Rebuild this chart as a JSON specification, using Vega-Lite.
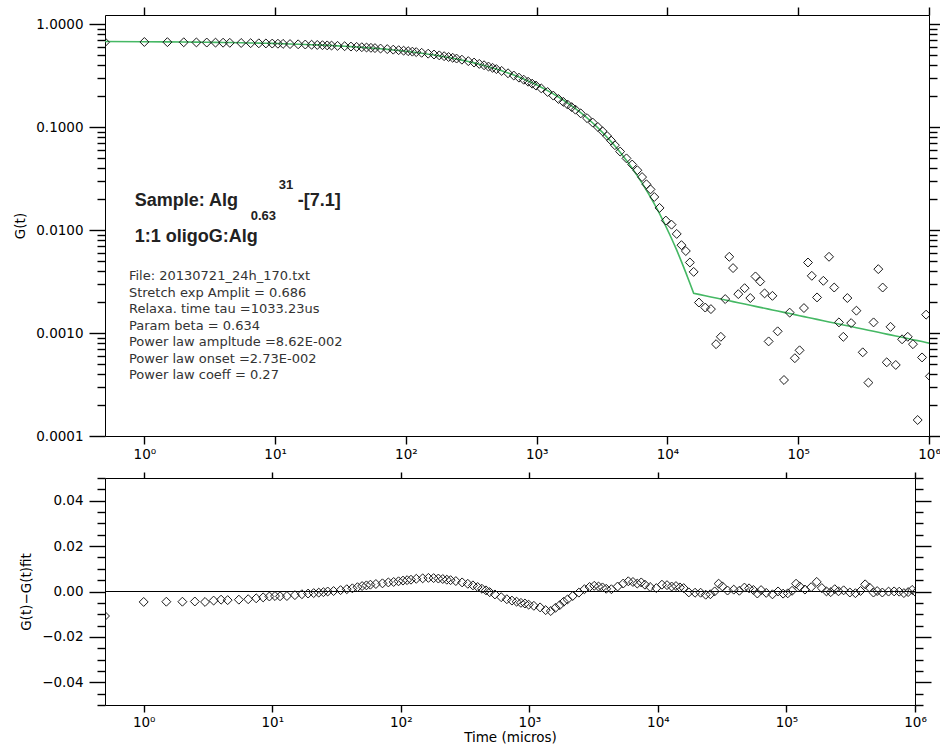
{
  "$schema": "https://vega.github.io/schema/vega-lite/v6.json",
  "padding": {"left": 13, "top": 6, "right": 0, "bottom": 0},
  "background": "white",
  "config": {
    "view": {"stroke": null},
    "axis": {"domainColor": "#000", "domainWidth": 1, "tickColor": "#000", "tickWidth": 1.4, "labelColor": "#000", "labelFont": "DejaVu Sans", "labelFontSize": 13.5, "titleFont": "DejaVu Sans", "titleFontSize": 13.5, "titleFontWeight": "normal", "titleColor": "#000", "grid": false, "labelOverlap": false, "labelFlush": false}
  },
  "datasets": {
    "pts": [
      {"t":0.5,"fit":0.6806,"r":-0.0108,"g":0.6698},
      {"t":1,"fit":0.6776,"r":-0.0046,"g":0.6730},
      {"t":1.5,"fit":0.6752,"r":-0.0045,"g":0.6707},
      {"t":2,"fit":0.6731,"r":-0.0045,"g":0.6686},
      {"t":2.5,"fit":0.6711,"r":-0.0044,"g":0.6667},
      {"t":3,"fit":0.6693,"r":-0.0046,"g":0.6647},
      {"t":3.5,"fit":0.6676,"r":-0.0040,"g":0.6636},
      {"t":4,"fit":0.6660,"r":-0.0036,"g":0.6624},
      {"t":4.5,"fit":0.6645,"r":-0.0038,"g":0.6607},
      {"t":5.5,"fit":0.6616,"r":-0.0036,"g":0.6580},
      {"t":6.5,"fit":0.6590,"r":-0.0034,"g":0.6556},
      {"t":7.5,"fit":0.6565,"r":-0.0030,"g":0.6535},
      {"t":8.5,"fit":0.6541,"r":-0.0026,"g":0.6515},
      {"t":9.5,"fit":0.6518,"r":-0.0022,"g":0.6496},
      {"t":10.5,"fit":0.6496,"r":-0.0020,"g":0.6476},
      {"t":11.5,"fit":0.6475,"r":-0.0021,"g":0.6454},
      {"t":13,"fit":0.6445,"r":-0.0020,"g":0.6425},
      {"t":15,"fit":0.6407,"r":-0.0016,"g":0.6391},
      {"t":17,"fit":0.6371,"r":-0.0012,"g":0.6359},
      {"t":19,"fit":0.6337,"r":-0.0009,"g":0.6328},
      {"t":21,"fit":0.6304,"r":-0.0007,"g":0.6297},
      {"t":23,"fit":0.6272,"r":-0.0005,"g":0.6267},
      {"t":25,"fit":0.6242,"r":-0.0003,"g":0.6239},
      {"t":27,"fit":0.6212,"r":0.0000,"g":0.6212},
      {"t":30,"fit":0.6170,"r":0.0002,"g":0.6172},
      {"t":34,"fit":0.6116,"r":0.0006,"g":0.6122},
      {"t":38,"fit":0.6065,"r":0.0010,"g":0.6075},
      {"t":42,"fit":0.6016,"r":0.0014,"g":0.6030},
      {"t":46,"fit":0.5970,"r":0.0019,"g":0.5989},
      {"t":50,"fit":0.5925,"r":0.0024,"g":0.5949},
      {"t":54,"fit":0.5881,"r":0.0027,"g":0.5908},
      {"t":58,"fit":0.5839,"r":0.0030,"g":0.5869},
      {"t":64,"fit":0.5779,"r":0.0033,"g":0.5812},
      {"t":72,"fit":0.5703,"r":0.0036,"g":0.5739},
      {"t":80,"fit":0.5630,"r":0.0040,"g":0.5670},
      {"t":88,"fit":0.5562,"r":0.0042,"g":0.5604},
      {"t":96,"fit":0.5496,"r":0.0045,"g":0.5541},
      {"t":104,"fit":0.5433,"r":0.0048,"g":0.5481},
      {"t":112,"fit":0.5372,"r":0.0050,"g":0.5422},
      {"t":120,"fit":0.5314,"r":0.0052,"g":0.5366},
      {"t":132,"fit":0.5230,"r":0.0056,"g":0.5286},
      {"t":148,"fit":0.5124,"r":0.0058,"g":0.5182},
      {"t":164,"fit":0.5025,"r":0.0060,"g":0.5085},
      {"t":180,"fit":0.4930,"r":0.0059,"g":0.4989},
      {"t":196,"fit":0.4841,"r":0.0057,"g":0.4898},
      {"t":212,"fit":0.4756,"r":0.0055,"g":0.4811},
      {"t":228,"fit":0.4674,"r":0.0052,"g":0.4726},
      {"t":244,"fit":0.4596,"r":0.0050,"g":0.4646},
      {"t":268,"fit":0.4485,"r":0.0046,"g":0.4531},
      {"t":300,"fit":0.4345,"r":0.0040,"g":0.4385},
      {"t":332,"fit":0.4216,"r":0.0034,"g":0.4250},
      {"t":364,"fit":0.4094,"r":0.0027,"g":0.4121},
      {"t":396,"fit":0.3980,"r":0.0020,"g":0.4000},
      {"t":428,"fit":0.3872,"r":0.0012,"g":0.3884},
      {"t":460,"fit":0.3770,"r":0.0005,"g":0.3775},
      {"t":492,"fit":0.3673,"r":-0.0003,"g":0.3670},
      {"t":540,"fit":0.3536,"r":-0.0013,"g":0.3523},
      {"t":604,"fit":0.3368,"r":-0.0025,"g":0.3343},
      {"t":668,"fit":0.3213,"r":-0.0034,"g":0.3179},
      {"t":732,"fit":0.3071,"r":-0.0040,"g":0.3031},
      {"t":796,"fit":0.2939,"r":-0.0045,"g":0.2894},
      {"t":860,"fit":0.2817,"r":-0.0050,"g":0.2767},
      {"t":924,"fit":0.2702,"r":-0.0053,"g":0.2649},
      {"t":988,"fit":0.2595,"r":-0.0058,"g":0.2537},
      {"t":1084,"fit":0.2447,"r":-0.0063,"g":0.2384},
      {"t":1212,"fit":0.2269,"r":-0.0070,"g":0.2199},
      {"t":1340,"fit":0.2110,"r":-0.0082,"g":0.2028},
      {"t":1468,"fit":0.1967,"r":-0.0086,"g":0.1881},
      {"t":1596,"fit":0.1837,"r":-0.0072,"g":0.1765},
      {"t":1724,"fit":0.1720,"r":-0.0060,"g":0.1660},
      {"t":1852,"fit":0.1613,"r":-0.0045,"g":0.1568},
      {"t":1980,"fit":0.1515,"r":-0.0035,"g":0.1480},
      {"t":2172,"fit":0.1383,"r":-0.0020,"g":0.1363},
      {"t":2428,"fit":0.1230,"r":-0.0005,"g":0.1225},
      {"t":2684,"fit":0.1099,"r":0.0010,"g":0.1109},
      {"t":2940,"fit":0.0985,"r":0.0020,"g":0.1005},
      {"t":3196,"fit":0.0886,"r":0.0025,"g":0.0911},
      {"t":3452,"fit":0.0800,"r":0.0022,"g":0.0822},
      {"t":3708,"fit":0.0724,"r":0.0018,"g":0.0742},
      {"t":3964,"fit":0.0657,"r":0.0012,"g":0.0669},
      {"t":4348,"fit":0.0570,"r":0.0010,"g":0.0580},
      {"t":4860,"fit":0.0476,"r":0.0022,"g":0.0498},
      {"t":5372,"fit":0.0399,"r":0.0035,"g":0.0434},
      {"t":5884,"fit":0.0337,"r":0.0045,"g":0.0382},
      {"t":6396,"fit":0.0286,"r":0.0042,"g":0.0328},
      {"t":6908,"fit":0.0244,"r":0.0035,"g":0.0279},
      {"t":7420,"fit":0.0209,"r":0.0040,"g":0.0249},
      {"t":7932,"fit":0.0180,"r":0.0030,"g":0.0210},
      {"t":8700,"fit":0.01444,"r":0.0020,"g":0.01644},
      {"t":9724,"fit":0.01089,"r":0.0015,"g":0.01239},
      {"t":10748,"fit":0.00830,"r":0.0030,"g":0.01130},
      {"t":11772,"fit":0.00639,"r":0.0028,"g":0.00919},
      {"t":12796,"fit":0.00495,"r":0.0022,"g":0.00715},
      {"t":13820,"fit":0.00387,"r":0.0024,"g":0.00627},
      {"t":14844,"fit":0.00305,"r":0.0018,"g":0.00485},
      {"t":15868,"fit":0.00243,"r":0.0015,"g":0.00393},
      {"t":17404,"fit":0.002376,"r":-0.0004,"g":0.00198},
      {"t":19452,"fit":0.002306,"r":-0.00054,"g":0.00177},
      {"t":21500,"fit":0.002245,"r":-0.00054,"g":0.00171},
      {"t":23548,"fit":0.002191,"r":-0.00141,"g":0.00078},
      {"t":25596,"fit":0.002142,"r":-0.00122,"g":0.00092},
      {"t":27644,"fit":0.002098,"r":0.00004,"g":0.00214},
      {"t":29692,"fit":0.002058,"r":0.00345,"g":0.00551},
      {"t":31740,"fit":0.002021,"r":0.00226,"g":0.00428},
      {"t":34812,"fit":0.001972,"r":0.00042,"g":0.00239},
      {"t":38908,"fit":0.001913,"r":0.00082,"g":0.00273},
      {"t":43004,"fit":0.001862,"r":0.00033,"g":0.00219},
      {"t":47100,"fit":0.001818,"r":0.00173,"g":0.00355},
      {"t":51196,"fit":0.001777,"r":0.00139,"g":0.00317},
      {"t":55292,"fit":0.001741,"r":0.00069,"g":0.00243},
      {"t":59388,"fit":0.001708,"r":-0.00088,"g":0.00083},
      {"t":63484,"fit":0.001678,"r":0.00062,"g":0.00230},
      {"t":69628,"fit":0.001636,"r":-0.0006,"g":0.00104},
      {"t":77820,"fit":0.001589,"r":-0.00124,"g":0.00035},
      {"t":86012,"fit":0.001547,"r":0.00003,"g":0.00158},
      {"t":94204,"fit":0.001510,"r":-0.00094,"g":0.00057},
      {"t":102396,"fit":0.001476,"r":-0.0008,"g":0.00068},
      {"t":110588,"fit":0.001445,"r":0.00031,"g":0.00175},
      {"t":118780,"fit":0.001418,"r":0.00343,"g":0.00485},
      {"t":126972,"fit":0.001392,"r":0.00221,"g":0.00360},
      {"t":139260,"fit":0.001358,"r":0.00086,"g":0.00222},
      {"t":155644,"fit":0.001318,"r":0.0019,"g":0.00322},
      {"t":172028,"fit":0.001283,"r":0.00423,"g":0.00551},
      {"t":188412,"fit":0.001252,"r":0.00152,"g":0.00277},
      {"t":204796,"fit":0.001224,"r":0.00005,"g":0.00127},
      {"t":221180,"fit":0.001199,"r":-0.00028,"g":0.00092},
      {"t":237564,"fit":0.001177,"r":0.00101,"g":0.00219},
      {"t":253948,"fit":0.001156,"r":0.0001,"g":0.00125},
      {"t":278524,"fit":0.001128,"r":0.00052,"g":0.00165},
      {"t":311292,"fit":0.001094,"r":-0.00044,"g":0.00065},
      {"t":344060,"fit":0.001066,"r":-0.00074,"g":0.00033},
      {"t":376828,"fit":0.001040,"r":0.00023,"g":0.00127},
      {"t":409596,"fit":0.001017,"r":0.00316,"g":0.00418},
      {"t":442364,"fit":0.000996,"r":0.00177,"g":0.00277},
      {"t":475132,"fit":0.000977,"r":-0.00046,"g":0.00052},
      {"t":507900,"fit":0.000960,"r":0.00019,"g":0.00115},
      {"t":557052,"fit":0.000936,"r":-0.00045,"g":0.00049},
      {"t":622588,"fit":0.000909,"r":-0.00004,"g":0.00087},
      {"t":688124,"fit":0.000885,"r":0.00004,"g":0.00092},
      {"t":753660,"fit":0.000863,"r":-0.00008,"g":0.00078},
      {"t":819196,"fit":0.000844,"r":-0.0007,"g":0.000143},
      {"t":884732,"fit":0.000827,"r":-0.00025,"g":0.00058},
      {"t":950268,"fit":0.000811,"r":0.0007,"g":0.00151},
      {"t":1015804,"fit":0.000796,"r":-0.00042,"g":0.00038}
    ]
  },
  "spacing": 10,
  "vconcat": [
    {
      "width": 824,
      "height": 421,
      "resolve": {"axis": {"x": "independent", "y": "independent"}},
      "layer": [
        {
          "data": {"name": "pts"},
          "mark": {"type": "point", "opacity": 0},
          "encoding": {
            "x": {"field": "t", "type": "quantitative", "scale": {"type": "log", "domain": [0.5, 1000000], "nice": false}, "axis": null},
            "y": {"field": "g", "type": "quantitative", "scale": {"type": "log", "domain": [0.0001, 1.231], "nice": false},
              "axis": {"orient": "left", "title": null, "labels": false, "domain": false, "tickSize": 8,
                "values": [0.0002,0.0003,0.0004,0.0005,0.0006,0.0007,0.0008,0.0009,0.002,0.003,0.004,0.005,0.006,0.007,0.008,0.009,0.02,0.03,0.04,0.05,0.06,0.07,0.08,0.09,0.2,0.3,0.4,0.5,0.6,0.7,0.8,0.9]}}
          }
        },
        {
          "data": {"name": "pts"},
          "mark": {"type": "point", "opacity": 0},
          "encoding": {
            "x": {"field": "t", "type": "quantitative", "scale": {"type": "log", "domain": [0.5, 1000000], "nice": false}, "axis": null},
            "y": {"field": "g", "type": "quantitative", "scale": {"type": "log", "domain": [0.0001, 1.231], "nice": false},
              "axis": {"orient": "right", "title": null, "labels": false, "domain": false, "tickSize": 8,
                "values": [0.0002,0.0003,0.0004,0.0005,0.0006,0.0007,0.0008,0.0009,0.002,0.003,0.004,0.005,0.006,0.007,0.008,0.009,0.02,0.03,0.04,0.05,0.06,0.07,0.08,0.09,0.2,0.3,0.4,0.5,0.6,0.7,0.8,0.9]}}
          }
        },
        {
          "data": {"name": "pts"},
          "mark": {"type": "point", "opacity": 0},
          "encoding": {
            "x": {"field": "t", "type": "quantitative", "scale": {"type": "log", "domain": [0.5, 1000000], "nice": false},
              "axis": {"orient": "bottom", "values": [1, 10, 100, 1000, 10000, 100000, 1000000], "labels": false, "tickSize": 8, "title": null}},
            "y": {"field": "g", "type": "quantitative", "scale": {"type": "log", "domain": [0.0001, 1.231], "nice": false},
              "axis": {"orient": "left", "title": null, "labels": false, "tickSize": 16, "values": [0.0001, 0.001, 0.01, 0.1, 1]}}
          }
        },
        {
          "data": {"name": "pts"},
          "mark": {"type": "line", "color": "#45b864", "strokeWidth": 1.6, "clip": true},
          "encoding": {
            "x": {"field": "t", "type": "quantitative", "scale": {"type": "log", "domain": [0.5, 1000000], "nice": false},
              "axis": {"orient": "top", "values": [1, 10, 100, 1000, 10000, 100000, 1000000], "labels": false, "tickSize": 8, "title": null}},
            "y": {"field": "fit", "type": "quantitative", "scale": {"type": "log", "domain": [0.0001, 1.231], "nice": false},
              "axis": {"orient": "right", "title": null, "labels": false, "tickSize": 16, "values": [0.0001, 0.001, 0.01, 0.1, 1]}}
          }
        },
        {
          "data": {"name": "pts"},
          "mark": {"type": "point", "shape": "diamond", "filled": false, "size": 80, "color": "#1a1a1a", "strokeWidth": 1, "opacity": 1, "clip": true},
          "encoding": {
            "x": {"field": "t", "type": "quantitative", "scale": {"type": "log", "domain": [0.5, 1000000], "nice": false},
              "axis": {"orient": "bottom", "values": [1, 10, 100, 1000, 10000, 100000, 1000000], "ticks": false, "domain": false, "labelPadding": 11, "title": null,
                "labelExpr": "'10' + ['⁰','¹','²','³','⁴','⁵','⁶'][round(log(datum.value)/LN10)]"}},
            "y": {"field": "g", "type": "quantitative", "scale": {"type": "log", "domain": [0.0001, 1.231], "nice": false},
              "axis": {"orient": "left", "title": "G(t)", "titlePadding": 8, "ticks": false, "domain": false, "labelPadding": 22,
                "values": [0.0001, 0.001, 0.01, 0.1, 1], "format": ".4f"}}
          }
        },
        {
          "data": {"values": [
            {"t": 0.843, "g": 0.01925, "label": "Sample: Alg"},
            {"t": 14.89, "g": 0.01925, "label": "-[7.1]"},
            {"t": 0.843, "g": 0.00867, "label": "1:1 oligoG:Alg"}
          ]},
          "mark": {"type": "text", "align": "left", "baseline": "middle", "font": "Liberation Sans", "fontWeight": "bold", "fontSize": 18, "color": "#222"},
          "encoding": {
            "x": {"field": "t", "type": "quantitative", "axis": null},
            "y": {"field": "g", "type": "quantitative", "axis": null},
            "text": {"field": "label"}
          }
        },
        {
          "data": {"values": [
            {"t": 6.51, "g": 0.01386, "label": "0.63"},
            {"t": 10.66, "g": 0.02754, "label": "31"}
          ]},
          "mark": {"type": "text", "align": "left", "baseline": "middle", "font": "Liberation Sans", "fontWeight": "bold", "fontSize": 13, "color": "#222"},
          "encoding": {
            "x": {"field": "t", "type": "quantitative", "axis": null},
            "y": {"field": "g", "type": "quantitative", "axis": null},
            "text": {"field": "label"}
          }
        },
        {
          "data": {"values": [
            {"t": 0.7625, "g": 0.004071, "lines": ["File:  20130721_24h_170.txt", "Stretch exp Amplit = 0.686", "Relaxa. time tau =1033.23us", "Param beta = 0.634", "Power law ampltude =8.62E-002", "Power law onset =2.73E-002", "Power law coeff =  0.27"]}
          ]},
          "mark": {"type": "text", "align": "left", "baseline": "top", "font": "DejaVu Sans", "fontSize": 13, "lineHeight": 16.5, "color": "#333"},
          "encoding": {
            "x": {"field": "t", "type": "quantitative", "axis": null},
            "y": {"field": "g", "type": "quantitative", "axis": null},
            "text": {"field": "lines"}
          }
        }
      ]
    },
    {
      "width": 810,
      "height": 227,
      "resolve": {"axis": {"x": "independent", "y": "independent"}},
      "layer": [
        {
          "data": {"values": [{}]},
          "mark": {"type": "rule", "color": "#000", "strokeWidth": 1},
          "encoding": {
            "y": {"datum": 0, "type": "quantitative", "scale": {"domain": [-0.05, 0.05], "nice": false}, "axis": null}
          }
        },
        {
          "data": {"name": "pts"},
          "mark": {"type": "point", "opacity": 0},
          "encoding": {
            "x": {"field": "t", "type": "quantitative", "scale": {"type": "log", "domain": [0.5, 1000000], "nice": false}, "axis": null},
            "y": {"field": "r", "type": "quantitative", "scale": {"domain": [-0.05, 0.05], "nice": false},
              "axis": {"orient": "left", "title": null, "labels": false, "domain": false, "tickSize": 8,
                "values": [-0.05,-0.045,-0.035,-0.03,-0.025,-0.015,-0.01,-0.005,0.005,0.01,0.015,0.025,0.03,0.035,0.045,0.05]}}
          }
        },
        {
          "data": {"name": "pts"},
          "mark": {"type": "point", "opacity": 0},
          "encoding": {
            "x": {"field": "t", "type": "quantitative", "scale": {"type": "log", "domain": [0.5, 1000000], "nice": false}, "axis": null},
            "y": {"field": "r", "type": "quantitative", "scale": {"domain": [-0.05, 0.05], "nice": false},
              "axis": {"orient": "right", "title": null, "labels": false, "domain": false, "tickSize": 8,
                "values": [-0.05,-0.045,-0.035,-0.03,-0.025,-0.015,-0.01,-0.005,0.005,0.01,0.015,0.025,0.03,0.035,0.045,0.05]}}
          }
        },
        {
          "data": {"name": "pts"},
          "mark": {"type": "point", "opacity": 0},
          "encoding": {
            "x": {"field": "t", "type": "quantitative", "scale": {"type": "log", "domain": [0.5, 1000000], "nice": false},
              "axis": {"orient": "top", "values": [1, 10, 100, 1000, 10000, 100000, 1000000], "labels": false, "tickSize": 6, "title": null}},
            "y": {"field": "r", "type": "quantitative", "scale": {"domain": [-0.05, 0.05], "nice": false},
              "axis": {"orient": "right", "title": null, "labels": false, "tickSize": 16, "values": [-0.04, -0.02, 0, 0.02, 0.04]}}
          }
        },
        {
          "data": {"name": "pts"},
          "mark": {"type": "point", "opacity": 0},
          "encoding": {
            "x": {"field": "t", "type": "quantitative", "scale": {"type": "log", "domain": [0.5, 1000000], "nice": false},
              "axis": {"orient": "bottom", "values": [1, 10, 100, 1000, 10000, 100000, 1000000], "labels": false, "tickSize": 7, "title": null}},
            "y": {"field": "r", "type": "quantitative", "scale": {"domain": [-0.05, 0.05], "nice": false},
              "axis": {"orient": "left", "title": null, "labels": false, "tickSize": 16, "values": [-0.04, -0.02, 0, 0.02, 0.04]}}
          }
        },
        {
          "data": {"name": "pts"},
          "mark": {"type": "point", "shape": "diamond", "filled": false, "size": 80, "color": "#1a1a1a", "strokeWidth": 1, "opacity": 1, "clip": true},
          "encoding": {
            "x": {"field": "t", "type": "quantitative", "scale": {"type": "log", "domain": [0.5, 1000000], "nice": false},
              "axis": {"orient": "bottom", "values": [1, 10, 100, 1000, 10000, 100000, 1000000], "ticks": false, "domain": false, "labelPadding": 10, "title": "Time (micros)", "titlePadding": 2,
                "labelExpr": "'10' + ['⁰','¹','²','³','⁴','⁵','⁶'][round(log(datum.value)/LN10)]"}},
            "y": {"field": "r", "type": "quantitative", "scale": {"domain": [-0.05, 0.05], "nice": false},
              "axis": {"orient": "left", "title": "G(t)−G(t)fit", "titlePadding": 8, "ticks": false, "domain": false, "labelPadding": 22,
                "values": [-0.04, -0.02, 0, 0.02, 0.04], "format": ".2f"}}
          }
        }
      ]
    }
  ]
}
